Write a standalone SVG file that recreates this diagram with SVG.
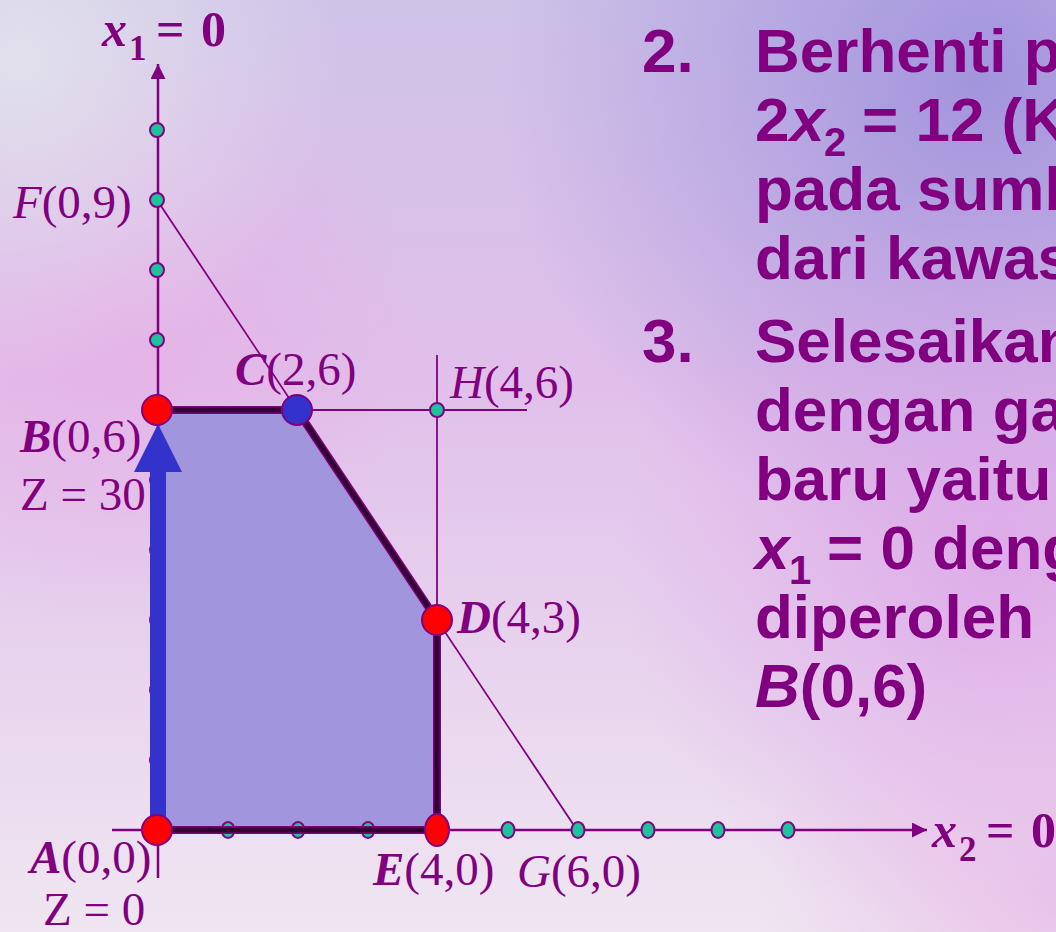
<svg xmlns="http://www.w3.org/2000/svg" width="1056" height="932" viewBox="0 0 1056 932">
<defs>
<linearGradient id="bg0" x1="0" y1="0" x2="0" y2="1">
<stop offset="0" stop-color="#cfc3e8"/>
<stop offset="0.4" stop-color="#e0bfea"/>
<stop offset="1" stop-color="#efe6f1"/>
</linearGradient>
<radialGradient id="bgTR" cx="980" cy="80" r="480" gradientUnits="userSpaceOnUse">
<stop offset="0" stop-color="#a092dc" stop-opacity="0.95"/>
<stop offset="1" stop-color="#a092dc" stop-opacity="0"/>
</radialGradient>
<radialGradient id="bgTL" cx="20" cy="60" r="320" gradientUnits="userSpaceOnUse">
<stop offset="0" stop-color="#e2e2ec" stop-opacity="0.95"/>
<stop offset="1" stop-color="#e2e2ec" stop-opacity="0"/>
</radialGradient>
<radialGradient id="bgR" cx="1000" cy="560" r="380" gradientUnits="userSpaceOnUse">
<stop offset="0" stop-color="#dca4e8" stop-opacity="0.8"/>
<stop offset="1" stop-color="#dca4e8" stop-opacity="0"/>
</radialGradient>
<radialGradient id="bgL" cx="120" cy="330" r="300" gradientUnits="userSpaceOnUse">
<stop offset="0" stop-color="#e6b0e6" stop-opacity="0.8"/>
<stop offset="1" stop-color="#e6b0e6" stop-opacity="0"/>
</radialGradient>
<radialGradient id="bgBR" cx="1056" cy="900" r="300" gradientUnits="userSpaceOnUse">
<stop offset="0" stop-color="#e8bce8" stop-opacity="0.8"/>
<stop offset="1" stop-color="#e8bce8" stop-opacity="0"/>
</radialGradient>
<marker id="ax" viewBox="0 0 10 10" refX="10" refY="5" markerWidth="6" markerHeight="6" markerUnits="strokeWidth" orient="auto">
<path d="M0,0 L10,5 L0,10 Z" fill="#800080"/>
</marker>
<style>
.ax{stroke:#800080;stroke-width:2.5;fill:none}
.thin{stroke:#800080;stroke-width:1.8;fill:none}
.dot{fill:#1cc39b;stroke:#800080;stroke-width:2}
.red{fill:#ff0000;stroke:#800080;stroke-width:2}
.blue{fill:#3333cc;stroke:#800080;stroke-width:2}
.lbl{font-family:"Liberation Serif","Times New Roman",serif;font-size:47px;fill:#800080}
.big{font-family:"Liberation Serif","Times New Roman",serif;font-size:50px;fill:#800080;font-weight:bold}
.bigsub{font-family:"Liberation Serif","Times New Roman",serif;font-size:35px;fill:#800080;font-weight:bold}
.txt{font-family:"Liberation Sans",Arial,sans-serif;font-size:62px;font-weight:bold;fill:#800080}
.sub{font-family:"Liberation Sans",Arial,sans-serif;font-size:40px;font-weight:bold;fill:#800080}
.bi{font-weight:bold;font-style:italic}
.it{font-style:italic}
</style>
</defs>
<g id="background">
<rect width="1056" height="932" fill="url(#bg0)"/>
<rect width="1056" height="932" fill="url(#bgL)"/>
<rect width="1056" height="932" fill="url(#bgTL)"/>
<rect width="1056" height="932" fill="url(#bgTR)"/>
<rect width="1056" height="932" fill="url(#bgR)"/>
<rect width="1056" height="932" fill="url(#bgBR)"/>
</g>
<g id="region">
<polygon points="157,830 157,410 297,410 437,620 437,830" fill="#a196dd"/>
</g>
<g id="connectors">
<line class="ax" x1="158" y1="878" x2="158" y2="64" marker-end="url(#ax)"/>
<line class="ax" x1="112" y1="830" x2="927" y2="830" marker-end="url(#ax)"/>
<line class="thin" x1="157" y1="200" x2="577" y2="830"/>
<line class="thin" x1="157" y1="410" x2="527" y2="410"/>
<line class="thin" x1="437" y1="355" x2="437" y2="830"/>
</g>
<g id="ticks">
<circle class="dot" cx="157" cy="130" r="7"/>
<circle class="dot" cx="157" cy="200" r="7"/>
<circle class="dot" cx="157" cy="270" r="7"/>
<circle class="dot" cx="157" cy="340" r="7"/>
<circle class="dot" cx="157" cy="480" r="7"/>
<circle class="dot" cx="157" cy="550" r="7"/>
<circle class="dot" cx="157" cy="620" r="7"/>
<circle class="dot" cx="157" cy="690" r="7"/>
<circle class="dot" cx="157" cy="760" r="7"/>
<ellipse class="dot" cx="228" cy="830" rx="6.5" ry="8"/>
<ellipse class="dot" cx="298" cy="830" rx="6.5" ry="8"/>
<ellipse class="dot" cx="368" cy="830" rx="6.5" ry="8"/>
<ellipse class="dot" cx="508" cy="830" rx="6.5" ry="8"/>
<ellipse class="dot" cx="578" cy="830" rx="6.5" ry="8"/>
<ellipse class="dot" cx="648" cy="830" rx="6.5" ry="8"/>
<ellipse class="dot" cx="718" cy="830" rx="6.5" ry="8"/>
<ellipse class="dot" cx="788" cy="830" rx="6.5" ry="8"/>
<circle class="dot" cx="437" cy="410" r="7"/>
</g>
<g id="boundary">
<polyline points="157,830 437,830 437,620 297,410 157,410" fill="none" stroke="#800080" stroke-width="8" stroke-linejoin="round"/>
<polyline points="157,830 437,830 437,620 297,410 157,410" fill="none" stroke="#330033" stroke-width="5" stroke-linejoin="round"/>
</g>
<g id="path-arrow">
<rect x="150" y="468" width="16" height="362" fill="#3333cc"/>
<polygon points="158,424 182,472 134,472" fill="#3333cc"/>
</g>
<g id="node-A"><circle class="red" cx="157" cy="830" r="15"/>
<text class="lbl" x="30" y="873"><tspan class="bi">A</tspan>(0,0)</text>
<text class="lbl" x="43" y="925">Z = 0</text></g>
<g id="node-B"><circle class="red" cx="157" cy="410" r="15"/>
<text class="lbl" x="20" y="452"><tspan class="bi">B</tspan>(0,6)</text>
<text class="lbl" x="20" y="510">Z = 30</text></g>
<g id="node-C"><circle class="blue" cx="297" cy="410" r="15"/>
<text class="lbl" x="235" y="385"><tspan class="bi">C</tspan>(2,6)</text></g>
<g id="node-D"><circle class="red" cx="437" cy="620" r="15"/>
<text class="lbl" x="457" y="633"><tspan class="bi">D</tspan>(4,3)</text></g>
<g id="node-E"><ellipse class="red" cx="437" cy="830" rx="12" ry="16"/>
<text class="lbl" x="373" y="885"><tspan class="bi">E</tspan>(4,0)</text></g>
<g id="node-F"><text class="lbl" x="13" y="218"><tspan class="it">F</tspan>(0,9)</text></g>
<g id="node-G"><text class="lbl" x="517" y="887"><tspan class="it">G</tspan>(6,0)</text></g>
<g id="node-H"><text class="lbl" x="450" y="398"><tspan class="it">H</tspan>(4,6)</text></g>
<g id="axis-labels">
<text class="big it" x="102" y="46">x</text>
<text class="bigsub" x="129" y="60">1</text>
<text class="big" x="156" y="46">=</text>
<text class="big" x="201" y="46">0</text>
<text class="big it" x="932" y="847">x</text>
<text class="bigsub" x="959" y="861">2</text>
<text class="big" x="986" y="847">=</text>
<text class="big" x="1031" y="847">0</text>
</g>
<g id="steps">
<text class="txt" x="642" y="72">2.</text>
<text class="txt" x="755" y="72">Berhenti pada</text>
<text class="txt" x="755" y="141">2</text>
<text class="txt it" x="790" y="141">x</text>
<text class="sub" x="824" y="156">2</text>
<text class="txt" x="862" y="141">= 12 (K</text>
<text class="txt" x="755" y="210">pada sumbu</text>
<text class="txt" x="755" y="279">dari kawasan</text>
<text class="txt" x="642" y="362">3.</text>
<text class="txt" x="755" y="362">Selesaikan</text>
<text class="txt" x="755" y="431">dengan garis</text>
<text class="txt" x="755" y="500">baru yaitu</text>
<text class="txt it" x="755" y="569">x</text>
<text class="sub" x="789" y="584">1</text>
<text class="txt" x="827" y="569">= 0 dengan</text>
<text class="txt" x="755" y="638">diperoleh</text>
<text class="txt" x="755" y="707"><tspan class="it">B</tspan>(0,6)</text>
</g>
</svg>
